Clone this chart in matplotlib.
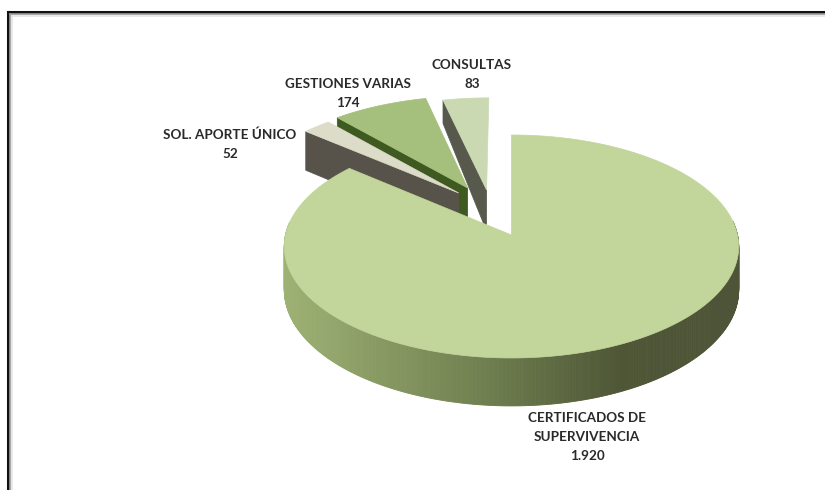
import numpy as np
import matplotlib
matplotlib.use("Agg")
import matplotlib.pyplot as plt
from matplotlib.patches import Polygon

plt.rcParams['font.family'] = ['Lato', 'DejaVu Sans']

# Chart data, clockwise from 12 o'clock
labels = ["CERTIFICADOS DE\nSUPERVIVENCIA", "SOL. APORTE ÚNICO", "GESTIONES VARIAS", "CONSULTAS"]
values = [1920, 52, 174, 83]

# Styles
top_colors = ["#C2D59A", "#DDDCC9", "#A4C07C", "#CBD9B3"]
wall_colors = [None, "#57534A", "#3F5A20", "#56594C"]
offsets = [(0, 0), (-0.243, 0.396), (-0.203, 0.446), (-0.115, 0.426)]
tip_depth = [1, 1, 1, 0.62]
label_pos = [(587, 412), (230, 128), (348, 78), (472, 59)]

# Projection of the tilted pie onto the picture
CX, CY, RX, RY, TILT, DEPTH = 511.5, 235, 226, 110.3, 0.103, 43


def project(u, v, down=0.0):
    w = 1 + TILT * v
    return np.column_stack([CX + RX * u / w, CY - (RY * v - down * DEPTH) / w])


fig = plt.figure(figsize=(8.25, 4.9), dpi=100)
ax = fig.add_axes([0, 0, 1, 1])
ax.set_xlim(0, 825)
ax.set_ylim(490, 0)
ax.axis("off")

# Frame with soft inner edge
for i, (lw, col) in enumerate([(2.2, "#111111"), (1.2, "#9a9a9a"), (1.2, "#e4e4e4")]):
    ax.plot([7.5 + i * 2, 7.5 + i * 2], [490, 12.5 + i * 2], color=col, lw=lw, zorder=1)
    ax.plot([7.5 + i * 2, 825], [12.5 + i * 2, 12.5 + i * 2], color=col, lw=lw, zorder=1)

# Angles measured clockwise from the top
edges = np.cumsum([0] + values) / sum(values) * 2 * np.pi

# Small slices first, the big one covers them
for idx in [3, 2, 1]:
    a0, a1 = edges[idx], edges[idx + 1]
    ou, ov = offsets[idx]
    t = np.linspace(a0, a1, 30)
    u = np.r_[ou, ou + np.sin(t)]
    v = np.r_[ov, ov + np.cos(t)]
    tip = (ou + np.sin(a0), ov + np.cos(a0))
    wall = np.vstack([
        project(np.array([ou, tip[0]]), np.array([ov, tip[1]])),
        project(np.array([tip[0]]), np.array([tip[1]]), down=tip_depth[idx]),
        project(np.array([ou]), np.array([ov]), down=1),
    ])
    ax.add_patch(Polygon(wall, closed=True, fc=wall_colors[idx], ec=wall_colors[idx], lw=0.5, zorder=2 + (3 - idx) * 2))
    ax.add_patch(Polygon(project(u, v), closed=True, fc=top_colors[idx], ec=top_colors[idx], lw=0.5, zorder=3 + (3 - idx) * 2))

# Rim of the big slice, shaded from left to right
t = np.linspace(edges[0], edges[1], 600)
wall_x = np.array([284, 480, 620, 740])
wall_rgb = np.array([[158, 178, 116], [112, 128, 80], [78, 86, 54], [78, 84, 56]])
for a, b in zip(t[:-1], t[1:]):
    if np.cos(a) > 0.12 and np.cos(b) > 0.12:
        continue
    pair_u, pair_v = np.sin([a, b]), np.cos([a, b])
    quad = np.vstack([project(pair_u, pair_v), project(pair_u[::-1], pair_v[::-1], down=1)])
    col = [np.interp(quad[:, 0].mean(), wall_x, wall_rgb[:, c]) / 255 for c in range(3)]
    ax.add_patch(Polygon(quad, closed=True, fc=col, ec=col, lw=0.6, zorder=9))

u = np.r_[0, np.sin(t)]
v = np.r_[0, np.cos(t)]
ax.add_patch(Polygon(project(u, v), closed=True, fc=top_colors[0], ec=top_colors[0], lw=0.5, zorder=10))

# Labels
for name, val, (x, y) in zip(labels, values, label_pos):
    txt = f"{val:,}".replace(",", ".")
    ax.text(x, y, name + "\n" + txt, ha="center", va="top", fontsize=9.7, fontweight="bold",
            color="#2A2A2A", linespacing=1.72, zorder=12)

fig.savefig("out.png", dpi=100)
